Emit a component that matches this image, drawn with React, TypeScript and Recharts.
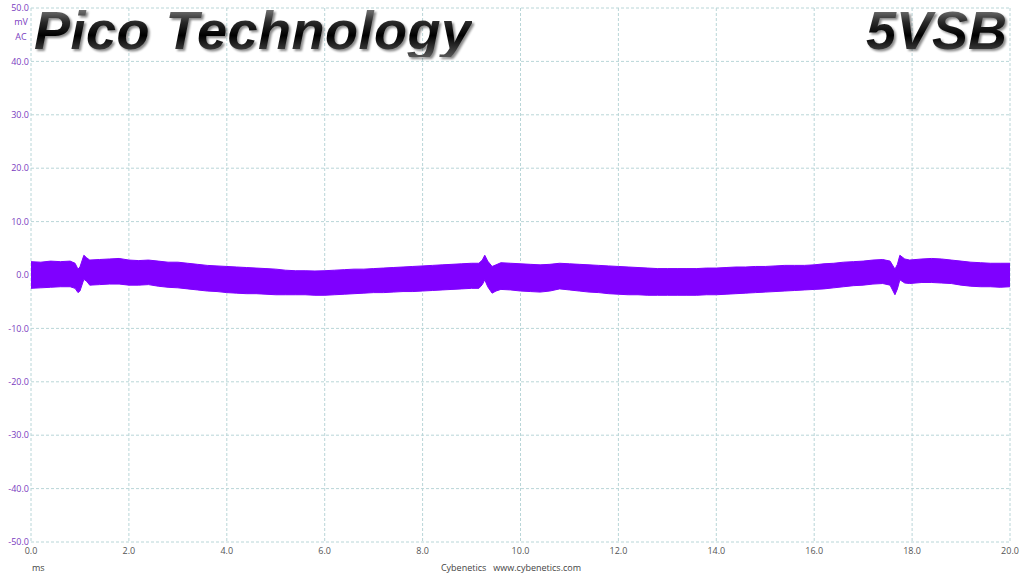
import React from 'react';
import { ComposedChart, Area, XAxis, YAxis, CartesianGrid } from 'recharts';

const timeMs = [
  0, 0.2, 0.4, 0.6, 0.8, 0.9, 0.96, 1.0, 1.08, 1.14,
  1.2, 1.4, 1.6, 1.8, 2.0, 2.2, 2.4, 2.6, 2.8, 3.0,
  3.2, 3.4, 3.6, 3.8, 4.0, 4.2, 4.4, 4.6, 4.8, 5.0,
  5.2, 5.4, 5.6, 5.8, 6.0, 6.2, 6.4, 6.6, 6.8, 7.0,
  7.2, 7.4, 7.6, 7.8, 8.0, 8.2, 8.4, 8.6, 8.8, 9.0,
  9.15, 9.22, 9.27, 9.33, 9.42, 9.5, 9.6, 9.8, 10.0, 10.2,
  10.4, 10.6, 10.8, 11.0, 11.2, 11.4, 11.6, 11.8, 12.0, 12.2,
  12.4, 12.6, 12.8, 13.0, 13.2, 13.4, 13.6, 13.8, 14.0, 14.2,
  14.4, 14.6, 14.8, 15.0, 15.2, 15.4, 15.6, 15.8, 16.0, 16.2,
  16.4, 16.6, 16.8, 17.0, 17.2, 17.4, 17.55, 17.65, 17.7, 17.75,
  17.85, 17.95, 18.2, 18.4, 18.6, 18.8, 19.0, 19.2, 19.4, 19.6,
  19.8, 20.0,
];

const upperMv = [
  2.5, 2.4, 2.6, 2.5, 2.6, 2.2, 1.1, 1.5, 3.7, 3.2,
  2.8, 2.9, 3.0, 3.1, 2.8, 2.7, 2.8, 2.6, 2.4, 2.4,
  2.2, 2.0, 1.8, 1.7, 1.6, 1.5, 1.4, 1.3, 1.2, 1.1,
  0.9, 0.8, 0.8, 0.75, 0.8, 0.9, 1.0, 1.1, 1.1, 1.2,
  1.3, 1.4, 1.5, 1.6, 1.7, 1.8, 1.9, 2.0, 2.1, 2.2,
  2.2, 2.8, 3.7, 2.6, 1.6, 1.9, 2.3, 2.2, 2.1, 2.0,
  1.9, 2.0, 2.2, 2.1, 2.0, 1.9, 1.8, 1.7, 1.6, 1.5,
  1.4, 1.3, 1.2, 1.2, 1.2, 1.2, 1.2, 1.3, 1.3, 1.4,
  1.5, 1.5, 1.6, 1.6, 1.7, 1.8, 1.8, 1.8, 1.9, 2.1,
  2.2, 2.4, 2.5, 2.6, 2.8, 2.9, 2.6, 1.1, 2.0, 3.7,
  3.0, 2.8, 3.0, 3.1, 3.0, 2.8, 2.6, 2.4, 2.3, 2.2,
  2.2, 2.2,
];

const lowerMv = [
  -2.5, -2.4, -2.3, -2.2, -2.2, -2.5, -3.3, -3.0, -0.8, -1.2,
  -1.9, -1.8, -1.7, -1.7, -1.9, -1.9, -1.8, -2.1, -2.3, -2.4,
  -2.6, -2.8, -3.0, -3.1, -3.3, -3.4, -3.5, -3.5, -3.6, -3.7,
  -3.7, -3.7, -3.7, -3.8, -3.8, -3.7, -3.6, -3.5, -3.4, -3.3,
  -3.3, -3.2, -3.1, -3.1, -3.0, -2.9, -2.8, -2.7, -2.6, -2.5,
  -2.5, -1.8, -0.9, -2.2, -3.4, -3.0, -2.7, -2.8, -3.0, -3.1,
  -3.2, -3.0, -2.6, -2.8, -3.0, -3.2, -3.3, -3.5, -3.6, -3.7,
  -3.7, -3.8, -3.8, -3.8, -3.8, -3.8, -3.8, -3.7, -3.7, -3.6,
  -3.5, -3.4, -3.3, -3.2, -3.1, -3.0, -2.9, -2.8, -2.7, -2.6,
  -2.4, -2.2, -2.0, -1.9, -1.7, -1.6, -1.9, -3.7, -2.6, -0.9,
  -1.5, -1.6, -1.4, -1.4, -1.5, -1.6, -1.9, -2.1, -2.2, -2.2,
  -2.3, -2.2,
];

const xTicks = [0, 2, 4, 6, 8, 10, 12, 14, 16, 18, 20];
const yTicks = [-50, -40, -30, -20, -10, 0, 10, 20, 30, 40, 50];

const traceColor = '#7f00ff';
const axisPurple = '#7a3cc0';
const uiFont = '"Open Sans", "Noto Sans", sans-serif';

const data = timeMs.map((t, i) => ({ t, band: [lowerMv[i], upperMv[i]] }));

const titleStyle: React.CSSProperties = {
  position: 'absolute',
  top: 3,
  fontFamily: '"Liberation Sans", Arial, sans-serif',
  fontWeight: 700,
  fontStyle: 'italic',
  fontSize: 54,
  lineHeight: 1,
  whiteSpace: 'nowrap',
  background: 'linear-gradient(180deg, #9a9a9a 0%, #2a2a2a 35%, #000 60%, #555 100%)',
  WebkitBackgroundClip: 'text',
  backgroundClip: 'text',
  color: 'transparent',
  filter: 'drop-shadow(2px 2px 1px rgba(0,0,0,0.45))',
};

export default function App() {
  return (
    <div
      style={{
        position: 'absolute',
        left: 0,
        top: 0,
        width: 1024,
        height: 576,
        background: '#fff',
        overflow: 'hidden',
        fontFamily: uiFont,
      }}
    >
      <ComposedChart
        width={1024}
        height={576}
        data={data}
        margin={{ top: 8, right: 14, left: 0, bottom: 0 }}
      >
        <CartesianGrid stroke="#b9d6d8" strokeDasharray="3 2" />
        <XAxis
          dataKey="t"
          type="number"
          domain={[0, 20]}
          ticks={xTicks}
          tickFormatter={(v: number) => v.toFixed(1)}
          axisLine={false}
          tickLine={false}
          tickSize={4}
          tickMargin={2}
          height={34}
          interval={0}
          tick={{ fill: '#555', fontSize: 9, fontFamily: uiFont }}
        />
        <YAxis
          type="number"
          domain={[-50, 50]}
          ticks={yTicks}
          tickFormatter={(v: number) => v.toFixed(1)}
          axisLine={false}
          tickLine={false}
          tickSize={0}
          tickMargin={2}
          width={31}
          interval={0}
          tick={{ fill: axisPurple, fontSize: 9, fontFamily: uiFont }}
        />
        <Area
          dataKey="band"
          type="linear"
          stroke={traceColor}
          strokeWidth={1}
          fill={traceColor}
          fillOpacity={1}
          isAnimationActive={false}
          dot={false}
          activeDot={false}
        />
      </ComposedChart>

      <div style={{ ...titleStyle, left: 34, letterSpacing: 0.5 }}>Pico Technology</div>
      <div style={{ ...titleStyle, right: 17 }}>5VSB</div>

      <div style={{ position: 'absolute', left: 10, width: 22, top: 16, textAlign: 'center', fontSize: 9, lineHeight: '12px', color: axisPurple }}>mV</div>
      <div style={{ position: 'absolute', left: 10, width: 22, top: 31, textAlign: 'center', fontSize: 9, lineHeight: '12px', color: axisPurple }}>AC</div>

      <div style={{ position: 'absolute', left: 32, top: 562, fontSize: 9, lineHeight: '12px', color: '#444' }}>ms</div>
      <div style={{ position: 'absolute', left: 0, width: 1022, top: 562, textAlign: 'center', fontSize: 9, lineHeight: '12px', color: '#444', whiteSpace: 'pre' }}>
        {'Cybenetics   www.cybenetics.com'}
      </div>
    </div>
  );
}
